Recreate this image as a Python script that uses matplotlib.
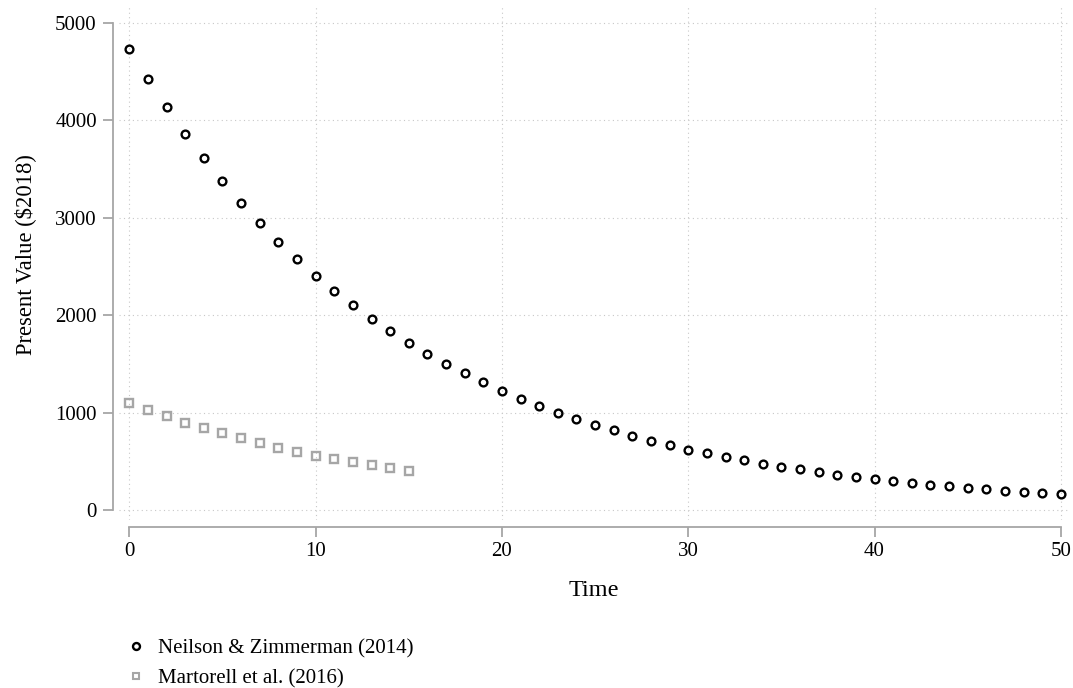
import matplotlib
matplotlib.use("Agg")
import matplotlib.pyplot as plt
from matplotlib.lines import Line2D

plt.rcParams['font.family'] = ['Liberation Serif', 'DejaVu Serif']

# Neilson & Zimmerman (2014), t = 0..50
t_nz = list(range(51))
pv_nz = [4733, 4425, 4134, 3864, 3611, 3375, 3155, 2950, 2755, 2574,
         2406, 2248, 2101, 1964, 1838, 1716, 1603, 1500, 1403, 1311,
         1225, 1143, 1068, 996, 934, 873, 818, 763, 712, 664,
         619, 580, 544, 508, 476, 445, 418, 387, 362, 339,
         318, 294, 277, 260, 243, 229, 212, 198, 185, 175,
         164]

# Martorell et al. (2016), t = 0..15
t_m = list(range(16))
pv_m = [1099, 1027, 962, 897, 842, 787, 736, 688, 640, 599,
        558, 524, 493, 459, 428, 400]

lab_nz = "Neilson & Zimmerman (2014)"
lab_m = "Martorell et al. (2016)"
xticks = [0, 10, 20, 30, 40, 50]
yticks = [0, 1000, 2000, 3000, 4000, 5000]

gray = "#a6a6a6"
W, H = 1073, 688

fig = plt.figure(figsize=(W / 100, H / 100), dpi=100)
ax = fig.add_axes([119 / W, 1 - 520 / H, 951 / W, 514 / H])

ax.plot(t_nz, pv_nz, linestyle="none", marker="o", markersize=5.6,
        markerfacecolor="none", markeredgecolor="black", markeredgewidth=1.7)
ax.plot(t_m, pv_m, linestyle="none", marker="s", markersize=5.4,
        markerfacecolor="none", markeredgecolor=gray, markeredgewidth=1.7)

ax.set_xlim(-0.553, 50.49)
ax.set_ylim(-103, 5175)
ax.set_xticks(xticks)
ax.set_yticks(yticks)

ax.grid(True, linestyle=(0, (1, 3)), color="#c8c8c8", linewidth=0.8)
ax.set_axisbelow(True)

for s in ["top", "right"]:
    ax.spines[s].set_visible(False)
ax.spines["left"].set_position(("outward", 4.3))
ax.spines["bottom"].set_position(("outward", 4.8))
ax.spines["left"].set_bounds(0, 5000)
ax.spines["bottom"].set_bounds(0, 50)
for s in ["left", "bottom"]:
    ax.spines[s].set_color(gray)
    ax.spines[s].set_linewidth(1.3)

ax.tick_params(axis="both", direction="out", length=7.2, width=1.3, color=gray,
               labelsize=15, labelcolor="black")
ax.tick_params(axis="y", pad=4.5)
ax.tick_params(axis="x", pad=4)

ax.set_xlabel("Time", fontsize=17.5, va="center", ha="center")
ax.xaxis.set_label_coords((594 - 119) / 951, (520 - 590) / 514)
ax.set_ylabel("Present Value ($2018)", fontsize=16.3, va="center", ha="center")
ax.yaxis.set_label_coords((25 - 119) / 951, (520 - 255) / 514)

handles = [
    Line2D([], [], linestyle="none", marker="o", markersize=5,
           markerfacecolor="none", markeredgecolor="black", markeredgewidth=1.7),
    Line2D([], [], linestyle="none", marker="s", markersize=5,
           markerfacecolor="none", markeredgecolor=gray, markeredgewidth=1.5),
]
fig.legend(handles, [lab_nz, lab_m], loc="upper left",
           bbox_to_anchor=(126 / W, 1 - 639 / H), frameon=False,
           fontsize=15, handlelength=1.0, handletextpad=0.55, labelspacing=0.5,
           borderaxespad=0, borderpad=0)

fig.savefig("out.png", dpi=100)
